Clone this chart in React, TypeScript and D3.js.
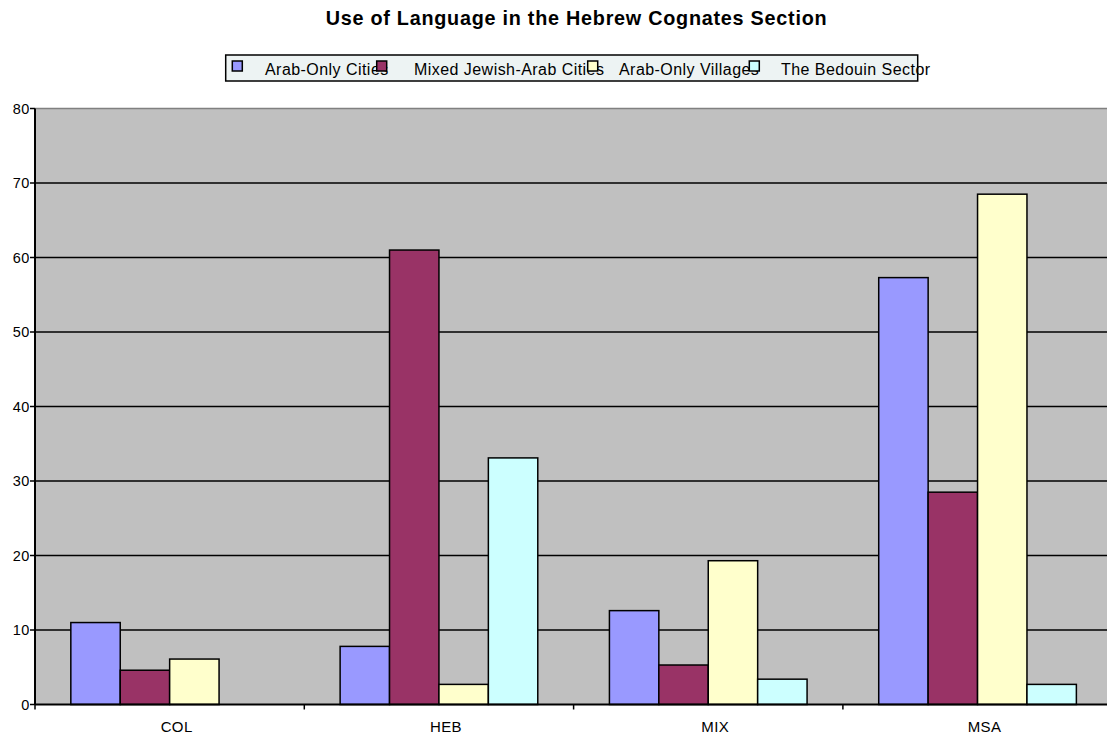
import React, { useEffect, useRef } from "react";
import * as d3 from "d3";

const categories = ["COL", "HEB", "MIX", "MSA"];
const seriesNames = [
  "Arab-Only Cities",
  "Mixed Jewish-Arab Cities",
  "Arab-Only Villages",
  "The Bedouin Sector",
];
const arabOnlyCities = [11.0, 7.8, 12.6, 57.3];
const mixedJewishArabCities = [4.6, 61.0, 5.3, 28.5];
const arabOnlyVillages = [6.1, 2.7, 19.3, 68.5];
const bedouinSector = [0, 33.1, 3.4, 2.7];
const yTicks = [0, 10, 20, 30, 40, 50, 60, 70, 80];
const seriesColors = ["#9999FF", "#993366", "#FFFFCC", "#CCFFFF"];

const W = 1107;
const H = 737;
const FONT = "'Liberation Sans', Arial, sans-serif";

export default function App() {
  const ref = useRef<SVGSVGElement | null>(null);

  useEffect(() => {
    const svg = d3.select(ref.current);
    svg.selectAll("*").remove();

    const left = 35;
    const top = 108.5;
    const bottom = 704.5;
    const right = left + 4 * 269.3;

    const series = [arabOnlyCities, mixedJewishArabCities, arabOnlyVillages, bedouinSector];

    const x = d3.scaleBand<string>().domain(categories).range([left, right]).padding(0);
    const xInner = d3
      .scaleBand<string>()
      .domain(seriesNames)
      .range([0, x.bandwidth()])
      .paddingInner(0)
      .paddingOuter(0.725);
    const y = d3.scaleLinear().domain([0, 80]).range([bottom, top]);

    // plot background
    svg
      .append("rect")
      .attr("x", left)
      .attr("y", top)
      .attr("width", right - left)
      .attr("height", bottom - top)
      .attr("fill", "#C0C0C0");

    svg
      .append("line")
      .attr("x1", left)
      .attr("x2", right)
      .attr("y1", top)
      .attr("y2", top)
      .attr("stroke", "#808080")
      .attr("stroke-width", 1.5);

    // gridlines
    svg
      .append("g")
      .selectAll("line")
      .data(yTicks.filter((t) => t > 0 && t < 80))
      .join("line")
      .attr("x1", left)
      .attr("x2", right)
      .attr("y1", (d) => y(d))
      .attr("y2", (d) => y(d))
      .attr("stroke", "#000")
      .attr("stroke-width", 1.5);

    // bars
    const g = svg.append("g");
    series.forEach((vals, si) => {
      g.append("g")
        .selectAll("rect")
        .data(vals.map((v, ci) => ({ v, c: categories[ci] })).filter((d) => d.v > 0))
        .join("rect")
        .attr("x", (d) => (x(d.c) as number) + (xInner(seriesNames[si]) as number))
        .attr("y", (d) => y(d.v))
        .attr("width", xInner.bandwidth())
        .attr("height", (d) => bottom - y(d.v))
        .attr("fill", seriesColors[si])
        .attr("stroke", "#000")
        .attr("stroke-width", 1.5);
    });

    // axes lines
    svg
      .append("line")
      .attr("x1", left)
      .attr("x2", left)
      .attr("y1", top)
      .attr("y2", bottom)
      .attr("stroke", "#000")
      .attr("stroke-width", 2);
    svg
      .append("line")
      .attr("x1", left)
      .attr("x2", right)
      .attr("y1", bottom)
      .attr("y2", bottom)
      .attr("stroke", "#000")
      .attr("stroke-width", 2);

    // y ticks and labels
    const yt = svg.append("g");
    yt.selectAll("line")
      .data(yTicks)
      .join("line")
      .attr("x1", left - 5)
      .attr("x2", left)
      .attr("y1", (d) => y(d))
      .attr("y2", (d) => y(d))
      .attr("stroke", "#000")
      .attr("stroke-width", 1.5);
    yt.selectAll("text")
      .data(yTicks)
      .join("text")
      .attr("x", left - 5)
      .attr("y", (d) => y(d) + 5)
      .attr("text-anchor", "end")
      .attr("font-family", FONT)
      .attr("font-size", 14.5)
      .attr("letter-spacing", 0.6)
      .attr("fill", "#000")
      .text((d) => String(d));

    // x ticks at category boundaries
    const boundaries = categories.map((c) => x(c) as number).concat([right]);
    svg
      .append("g")
      .selectAll("line")
      .data(boundaries)
      .join("line")
      .attr("x1", (d) => d)
      .attr("x2", (d) => d)
      .attr("y1", bottom)
      .attr("y2", bottom + 5)
      .attr("stroke", "#000")
      .attr("stroke-width", 1.5);

    svg
      .append("g")
      .selectAll("text")
      .data(categories)
      .join("text")
      .attr("x", (d) => (x(d) as number) + x.bandwidth() / 2 + 7)
      .attr("y", 732)
      .attr("text-anchor", "middle")
      .attr("font-family", FONT)
      .attr("font-size", 15)
      .attr("letter-spacing", 0.4)
      .attr("fill", "#000")
      .text((d) => d);

    // title
    svg
      .append("text")
      .attr("x", 576.5)
      .attr("y", 25)
      .attr("text-anchor", "middle")
      .attr("font-family", FONT)
      .attr("font-weight", "bold")
      .attr("font-size", 19.8)
      .attr("letter-spacing", 0.75)
      .attr("fill", "#000")
      .text("Use of Language in the Hebrew Cognates Section");

    // legend
    const legend = svg.append("g");
    legend
      .append("rect")
      .attr("x", 225.7)
      .attr("y", 55)
      .attr("width", 692)
      .attr("height", 26)
      .attr("fill", "#EDF3F3")
      .attr("stroke", "#000")
      .attr("stroke-width", 1.5);
    const markerX = [232.3, 376.7, 587.7, 749.3];
    const textX = [265, 414, 619, 781];
    seriesNames.forEach((name, i) => {
      legend
        .append("text")
        .attr("x", textX[i])
        .attr("y", 75)
        .attr("font-family", FONT)
        .attr("font-size", 16)
        .attr("letter-spacing", 0.45)
        .attr("fill", "#000")
        .text(name);
    });
    seriesNames.forEach((_, i) => {
      legend
        .append("rect")
        .attr("x", markerX[i])
        .attr("y", 61)
        .attr("width", 10)
        .attr("height", 10)
        .attr("fill", seriesColors[i])
        .attr("stroke", "#000")
        .attr("stroke-width", 1.5);
    });
  }, []);

  return (
    <svg
      ref={ref}
      width={W}
      height={H}
      style={{ position: "absolute", left: 0, top: 0, background: "#fff" }}
    />
  );
}
